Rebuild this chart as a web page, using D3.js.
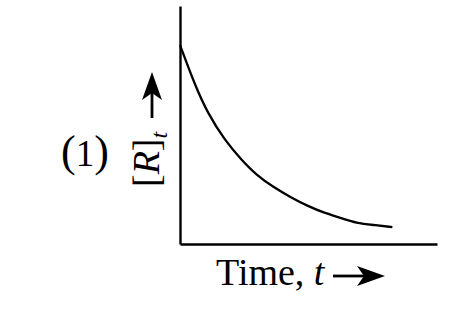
<!DOCTYPE html>
<html>
<head>
<meta charset="utf-8">
<script src="https://cdn.jsdelivr.net/npm/d3@7"></script>
<style>
  body { margin: 0; background: #fff; }
  text { font-family: "Liberation Serif", "Times New Roman", serif; fill: #000; }
</style>
</head>
<body>
<div id="chart"></div>
<script>
// first-order decay of [R] with time
var timeVals = [0, 0.7, 1.3, 2.1, 2.9, 3.6, 4.4, 5.2, 6, 6.8, 7.6, 8.3, 9.1, 10]
var concVals = [0.836, 0.668, 0.55, 0.437, 0.353, 0.29, 0.239, 0.197, 0.16, 0.13, 0.109, 0.088, 0.08, 0.071]

var width = 474
var height = 312

var svg = d3.select("#chart")
  .append("svg")
    .attr("width", width)
    .attr("height", height)

var x = d3.scaleLinear().domain([0, 12.1]).range([180, 437])
var y = d3.scaleLinear().domain([0, 1]).range([244, 6])

// axes: plain lines, no ticks
svg.append("g")
  .attr("transform", "translate(0,244)")
  .call(d3.axisBottom(x).ticks(0).tickSizeOuter(0))
  .select(".domain").attr("stroke-width", 2.4)

svg.append("g")
  .attr("transform", "translate(180,0)")
  .call(d3.axisLeft(y).ticks(0).tickSizeOuter(0))
  .select(".domain").attr("stroke-width", 2.4)

var pts = timeVals.map(function(t, i){ return [t, concVals[i]] })

svg.append("path")
  .datum(pts)
  .attr("fill", "none")
  .attr("stroke", "#000")
  .attr("stroke-width", 2.3)
  .attr("d", d3.line()
    .x(function(d){ return x(d[0]) })
    .y(function(d){ return y(d[1]) })
    .curve(d3.curveBasis))

// panel label, parens a bit taller than the digit
var pl = svg.append("text")
  .attr("x", 61)
  .attr("y", 166)
  .style("font-size", "44px")
pl.append("tspan").text("(")
pl.append("tspan").style("font-size", "37px").text("1")
pl.append("tspan").text(")")

// y label, rotated
var yl = svg.append("text")
  .attr("transform", "translate(159,187) rotate(-90)")
  .style("font-size", "38px")
yl.append("tspan").text("[")
yl.append("tspan").style("font-style", "italic").text("R")
yl.append("tspan").text("]")
yl.append("tspan").style("font-style", "italic").style("font-size", "24px").attr("dy", 8).text("t")

// arrow helper (stealth style head)
function arrow(x1, y1, x2, y2) {
  var ang = Math.atan2(y2 - y1, x2 - x1)
  var g = svg.append("g")
    .attr("transform", "translate(" + x2 + "," + y2 + ") rotate(" + (ang * 180 / Math.PI) + ")")
  var len = Math.hypot(x2 - x1, y2 - y1)
  g.append("line")
    .attr("x1", -len).attr("y1", 0)
    .attr("x2", -20).attr("y2", 0)
    .attr("stroke", "#000").attr("stroke-width", 2.8)
  g.append("path")
    .attr("d", "M0,0 L-28,-10 L-21,0 L-28,10 Z")
    .attr("fill", "#000")
}
arrow(152, 118, 152, 72)

// x label
var xl = svg.append("text")
  .attr("x", 216)
  .attr("y", 285)
  .style("font-size", "38px")
xl.append("tspan").text("Time, ")
xl.append("tspan").style("font-style", "italic").text("t")

arrow(333, 276, 385, 276)
</script>
</body>
</html>
